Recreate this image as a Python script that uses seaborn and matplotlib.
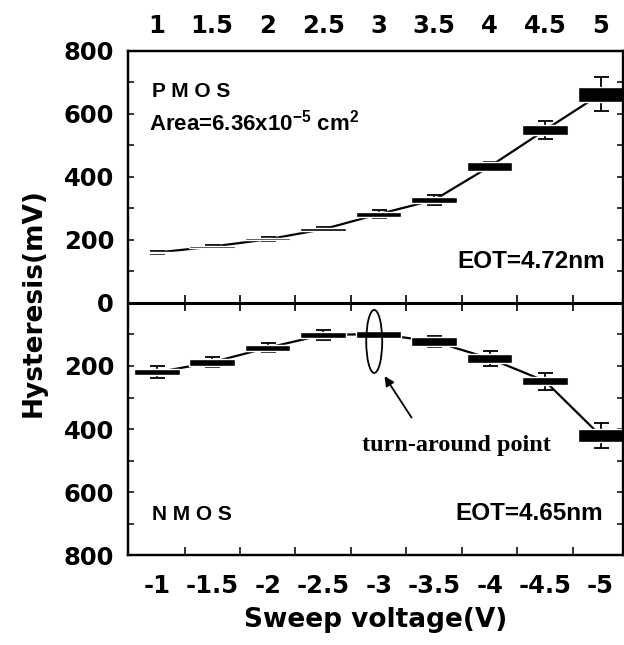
import matplotlib
matplotlib.use("Agg")
import matplotlib.pyplot as plt
from matplotlib.patches import Ellipse
import numpy as np
import pandas as pd
import seaborn as sb

# sweep voltage magnitude (V)
sweep = [1, 1.5, 2, 2.5, 3, 3.5, 4, 4.5, 5]
top_labels = ["1", "1.5", "2", "2.5", "3", "3.5", "4", "4.5", "5"]
bottom_labels = ["-1", "-1.5", "-2", "-2.5", "-3", "-3.5", "-4", "-4.5", "-5"]

# PMOS hysteresis (mV), error and half height of the black box
pmos = [160, 179, 202, 234, 282, 327, 433, 549, 663]
pmos_err = [4, 5, 6, 7, 12, 16, 15, 28, 53]
pmos_box = [2, 3, 3, 4, 8, 10, 13, 16, 24]

# NMOS hysteresis (mV), plotted downwards
nmos = [-220, -188, -142, -101, -99, -122, -176, -248, -421]
nmos_err = [19, 16, 15, 15, 8, 18, 23, 27, 40]
nmos_box = [10, 11, 10, 10, 11, 13, 13, 13, 21]

y_ticks = [-800, -600, -400, -200, 0, 200, 400, 600, 800]

sb.set_style("ticks")
plt.rcParams['font.family'] = ['Liberation Sans', 'DejaVu Sans']
plt.rcParams['font.weight'] = 'bold'
for k in ['text.color', 'axes.labelcolor', 'xtick.color', 'ytick.color', 'axes.edgecolor']:
    plt.rcParams[k] = 'black'
plt.rcParams['mathtext.fontset'] = 'custom'
plt.rcParams['mathtext.bf'] = 'Liberation Sans:bold'
plt.rcParams['mathtext.rm'] = 'Liberation Sans:bold'
plt.rcParams['mathtext.default'] = 'bf'

wide = ['DejaVu Sans']

df = pd.DataFrame({"V": sweep + sweep,
                   "H": pmos + nmos,
                   "err": pmos_err + nmos_err,
                   "box": pmos_box + nmos_box,
                   "type": ["PMOS"] * 9 + ["NMOS"] * 9})

fig = plt.figure(figsize=(6.24, 6.45), dpi=100)
ax = fig.add_axes([0.205, 0.1395, 0.793, 0.7815])

for t in ["PMOS", "NMOS"]:
    d = df[df["type"] == t]
    sb.lineplot(x=d["V"], y=d["H"], color="black", lw=1.6, ax=ax, legend=False)
    ax.errorbar(d["V"], d["H"], yerr=d["err"], fmt="none", ecolor="black",
                elinewidth=1.3, capsize=5.4, capthick=1.3, zorder=3)
    ax.bar(d["V"], 2 * d["box"], bottom=d["H"] - d["box"], width=0.41,
           color="black", zorder=4)

ax.set_xlim(0.74, 5.2)
ax.set_ylim(-800, 800)

# zero line with crossing ticks
mids = [(a + b) / 2 for a, b in zip(sweep[:-1], sweep[1:])]
ax.axhline(0, color="black", lw=2.2, zorder=5)
ax.plot(mids, [0] * len(mids), ls="none", marker="|", ms=11, mew=1.2, color="black", zorder=5)

ax.set_xticks(sweep)
ax.set_xticklabels(bottom_labels, family=wide, fontweight="bold")
ax.set_xticks(mids, minor=True)
ax.tick_params(axis="x", which="major", length=0, labelsize=17.5, pad=14)
ax.tick_params(axis="x", which="minor", direction="in", length=6, width=1.1, top=True)

ax.set_yticks(y_ticks)
ax.set_yticklabels([str(abs(v)) for v in y_ticks], family=wide, fontweight="bold")
ax.set_yticks(np.arange(-700, 800, 200), minor=True)
ax.tick_params(axis="y", which="both", direction="in", length=4, width=1.1, right=True, labelsize=17.5, pad=10)

ax2 = ax.twiny()
ax2.set_xlim(ax.get_xlim())
ax2.set_xticks(sweep)
ax2.set_xticklabels(top_labels, family=wide, fontweight="bold")
ax2.tick_params(axis="x", length=0, labelsize=17.5, pad=9)

for sp in list(ax.spines.values()) + list(ax2.spines.values()):
    sp.set_linewidth(1.6)

ax.set_xlabel("Sweep voltage(V)", fontsize=19, fontweight="bold", family=wide, labelpad=6)
ax.set_ylabel("Hysteresis(mV)", fontsize=19, fontweight="bold", family=wide, labelpad=12)

ax.text(0.96, 654, "P M O S", fontsize=15, fontweight="bold", va="baseline")
ax.text(0.928, 549, r"Area=6.36x10$^{-5}$ cm$^{2}$", fontsize=16, fontweight="bold", va="baseline")
ax.text(5.036, 111, "EOT=4.72nm", fontsize=17.5, fontweight="bold", ha="right", va="baseline")
ax.text(0.955, -689, "N M O S", fontsize=15, fontweight="bold", va="baseline")
ax.text(5.02, -689, "EOT=4.65nm", fontsize=17.5, fontweight="bold", ha="right", va="baseline")

ax.add_patch(Ellipse((2.96, -122), 0.144, 200, fill=False, lw=1.3, color="black", zorder=6))
ax.annotate("", xy=(3.04, -225), xytext=(3.31, -371),
            arrowprops=dict(arrowstyle="-|>", color="black", lw=1.3, mutation_scale=14))
ax.text(3.70, -470, "turn-around point", fontsize=17.5, fontweight="bold",
        family=["Liberation Serif", "DejaVu Serif"], ha="center", va="baseline")

plt.savefig("out.png", dpi=100)
